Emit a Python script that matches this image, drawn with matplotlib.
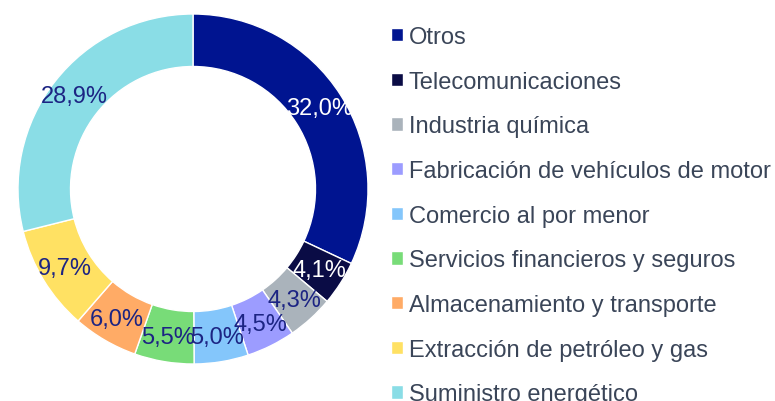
import matplotlib.pyplot as plt

plt.rcParams['font.family'] = ['Liberation Sans', 'DejaVu Sans']

sectors = [
    'Otros',
    'Telecomunicaciones',
    'Industria química',
    'Fabricación de vehículos de motor',
    'Comercio al por menor',
    'Servicios financieros y seguros',
    'Almacenamiento y transporte',
    'Extracción de petróleo y gas',
    'Suministro energético',
]
shares = [32.0, 4.1, 4.3, 4.5, 5.0, 5.5, 6.0, 9.7, 28.9]
colors = ['#001490', '#0a0c45', '#aab3bb', '#9c9cff', '#84c6fb',
          '#78dc78', '#ffab66', '#ffe163', '#8adde6']
label_colors = ['white', 'white', '#1c2483', '#1c2483', '#1c2483',
                '#1c2483', '#1c2483', '#1c2483', '#1c2483']

fig = plt.figure(figsize=(7.75, 4.02), dpi=100)
ax = fig.add_axes([18 / 775, 37 / 402, 350 / 775, 350 / 402])

wedges, texts, autotexts = ax.pie(
    shares,
    colors=colors,
    startangle=90,
    counterclock=False,
    radius=1.0,
    pctdistance=0.86,
    autopct=lambda p: f'{p:.1f}%'.replace('.', ','),
    wedgeprops=dict(width=0.30, edgecolor='white', linewidth=1.0),
    textprops=dict(fontsize=17),
)
for t, c in zip(autotexts, label_colors):
    t.set_color(c)

ax.set_xlim(-1.0, 1.0)
ax.set_ylim(-1.0, 1.0)
ax.set_aspect('equal')
ax.axis('off')

leg = fig.legend(
    wedges, sectors,
    loc='upper left',
    bbox_to_anchor=(391 / 775, 1 - 27 / 402),
    frameon=False,
    fontsize=17,
    handlelength=0.5,
    handleheight=0.5,
    handletextpad=0.25,
    labelspacing=0.96,
    borderpad=0.0,
    borderaxespad=0.0,
)
for txt in leg.get_texts():
    txt.set_color('#3a4558')

fig.savefig('out.png', dpi=100)
